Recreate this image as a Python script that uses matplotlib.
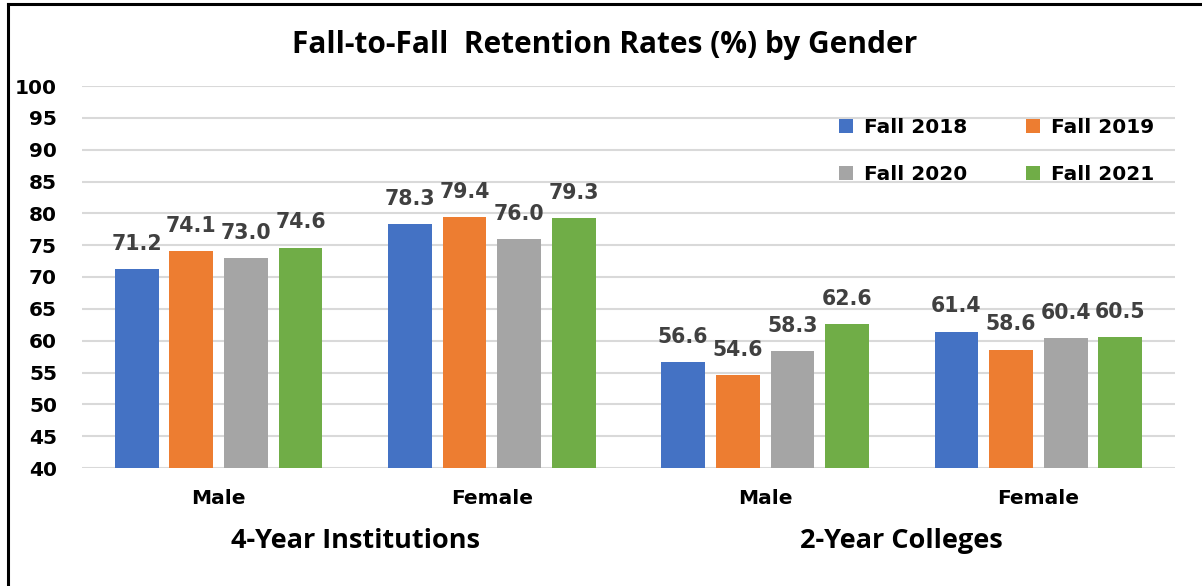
import numpy as np
import matplotlib
matplotlib.use("Agg")
import matplotlib.pyplot as plt
from matplotlib.lines import Line2D
from matplotlib.transforms import blended_transform_factory

# ── Data ────────────────────────────────────────────────────────────────────
categories = ["Male", "Female", "Male", "Female"]
groups = ["4-Year Institutions", "2-Year Colleges"]
series = ["Fall 2018", "Fall 2019", "Fall 2020", "Fall 2021"]
fall_2018 = [71.2, 78.3, 56.6, 61.4]
fall_2019 = [74.1, 79.4, 54.6, 58.6]
fall_2020 = [73.0, 76.0, 58.3, 60.4]
fall_2021 = [74.6, 79.3, 62.6, 60.5]
yticks = list(range(40, 101, 5))

colors = ["#4472C4", "#ED7D31", "#A5A5A5", "#70AD47"]
values = [fall_2018, fall_2019, fall_2020, fall_2021]

# ── Figure ──────────────────────────────────────────────────────────────────
fig = plt.figure(figsize=(12.02, 5.86), dpi=100)
ax = fig.add_axes([82 / 1202, 1 - 468 / 586, 1093 / 1202, 382 / 586])

x = np.arange(len(categories))
width, step = 0.16, 0.2
for i, (name, vals, c) in enumerate(zip(series, values, colors)):
    pos = x + (i - 1.5) * step
    bars = ax.bar(pos, vals, width, color=c, label=name, zorder=2)
    for b, v in zip(bars, vals):
        ax.annotate(f"{v:.1f}", (b.get_x() + b.get_width() / 2, v),
                    xytext=(0, 11), textcoords="offset points",
                    ha="center", va="bottom", fontsize=14.8, fontweight="bold",
                    color="#404040", family="DejaVu Sans")

ax.set_ylim(40, 100)
ax.set_xlim(-0.5, len(categories) - 0.5)
ax.set_yticks(yticks)
ax.set_yticklabels([str(t) for t in yticks], fontsize=14.5, fontweight="bold")
ax.set_xticks(x)
ax.set_xticklabels(categories, fontsize=14.5, fontweight="bold")
ax.tick_params(axis="y", length=0, pad=18)
ax.tick_params(axis="x", length=0, pad=15)
ax.grid(axis="y", color="#D9D9D9", linewidth=1.5, zorder=0)
ax.set_axisbelow(True)
for s in ax.spines.values():
    s.set_visible(False)

# group labels under the category labels
tr = blended_transform_factory(ax.transData, ax.transAxes)
for g, gx in zip(groups, [0.5, 2.5]):
    ax.text(gx, -0.19, g, transform=tr, ha="center", va="center",
            fontsize=19.5, fontweight="bold", family="Open Sans")

fig.text(0.503, 1 - 45 / 586, "Fall-to-Fall  Retention Rates (%) by Gender",
         ha="center", va="center", fontsize=21.5, fontweight="bold", family="Open Sans")

# legend fills row by row in the reference: reorder for ncol=2
h, l = ax.get_legend_handles_labels()
order = [0, 2, 1, 3]
ax.legend([h[k] for k in order], [l[k] for k in order], ncol=2, frameon=False,
          prop={"weight": "bold", "size": 14.5},
          loc="upper left", bbox_to_anchor=(829 / 1202, 1 - 108 / 586),
          bbox_transform=fig.transFigure, borderpad=0,
          handlelength=0.7, handleheight=0.7, handletextpad=0.55,
          columnspacing=2.9, labelspacing=1.4)

# chart frame (top and left edge visible)
fig.add_artist(Line2D([8 / 1202, 1], [1 - 4 / 586, 1 - 4 / 586], color="black", lw=2.2,
                      transform=fig.transFigure))
fig.add_artist(Line2D([8 / 1202, 8 / 1202], [0, 1 - 4 / 586], color="black", lw=2.2,
                      transform=fig.transFigure))

fig.savefig("out.png", dpi=100)
